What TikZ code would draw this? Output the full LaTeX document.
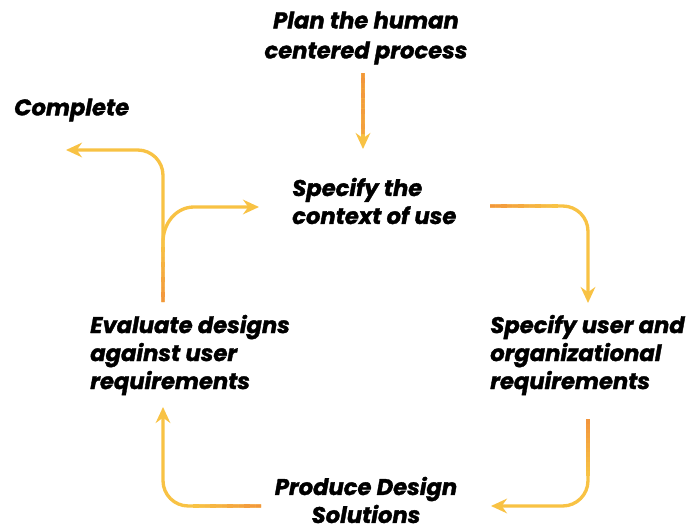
\documentclass[tikz,border=0pt]{standalone}
\usepackage{fontspec}
\setmainfont{Poppins}[BoldItalicFeatures={FakeBold=1.5}]
\usetikzlibrary{arrows.meta,calc}
\definecolor{yellowc}{HTML}{F8C244}
\definecolor{orangec}{HTML}{F2963C}
\tikzset{
  lbl/.style={inner sep=0pt, font=\fontsize{17}{21}\selectfont\bfseries\itshape, text=black},
  flow/.style={draw=yellowc, line width=2.5pt, rounded corners=19pt, -{Stealth[length=12pt,width=11pt,inset=4pt]}},
  fadepiece/.style={line width=2.5pt}
}
\newcommand{\fadeseg}[3]{% from, to, end percent of orange
  \foreach \i in {0,...,11}{
    \pgfmathtruncatemacro{\p}{100-(100-#3)*\i/11}
    \draw[fadepiece, draw=orangec!\p!yellowc] ($(#1)!\i/12!(#2)$) -- ($(#1)!{(\i+1)/12}!(#2)$);
  }%
}
\begin{document}
\begin{tikzpicture}[x=0.75pt,y=-0.75pt]
\useasboundingbox (0,0) rectangle (694,525);
% texts
\node[lbl, align=center] (plan) at (366,38) {Plan the human\\[1.5pt]centered process};
\node[lbl, anchor=west] (complete) at (14,110) {Complete};
\node[lbl, align=left, anchor=west] (ctx) at (292,201) {Specify the\\context of use};
\node[lbl, align=left, anchor=west] (user) at (490,355) {Specify user and\\organizational\\requirements};
\node[lbl, align=left, anchor=west] (eval) at (90,355) {Evaluate designs\\against user\\requirements};
\node[lbl, align=center] (prod) at (366,500) {Produce Design\\Solutions};
% connector end points
\coordinate (a1s) at (363,73);
\coordinate (a1e) at (363,149);
\coordinate (a2s) at (490,206);
\coordinate (a2c) at (588,206);
\coordinate (a2e) at (588,303);
\coordinate (a3s) at (588,419);
\coordinate (a3c) at (588,506);
\coordinate (a3e) at (491,506);
\coordinate (a4s) at (261,506);
\coordinate (a4c) at (163,506);
\coordinate (a4e) at (163,407);
\coordinate (a5s) at (163,302);
\coordinate (a5c) at (163,150);
\coordinate (a5e) at (66,150);
\coordinate (b6s) at (163,242);
\coordinate (b6m) at (194,207);
\coordinate (b6e) at (259,207);
% connectors
\draw[flow] (a1s) -- (a1e);
\fadeseg{a1s}{$(a1e)+(0,-15)$}{75}
\draw[flow] (a2s) -- (a2c) -- (a2e);
\fadeseg{a2s}{$(a2c)+(-30,0)$}{0}
\draw[flow] (a3s) -- (a3c) -- (a3e);
\fadeseg{a3s}{$(a3c)+(0,-30)$}{0}
\draw[flow] (a4s) -- (a4c) -- (a4e);
\fadeseg{a4s}{$(a4c)+(30,0)$}{0}
\draw[flow] (a5s) -- (a5c) -- (a5e);
\fadeseg{a5s}{$(a5s)+(0,-60)$}{0}
\draw[flow, rounded corners=0pt] (b6s) to[out=90,in=180] (b6m) -- (b6e);
\end{tikzpicture}
\end{document}
